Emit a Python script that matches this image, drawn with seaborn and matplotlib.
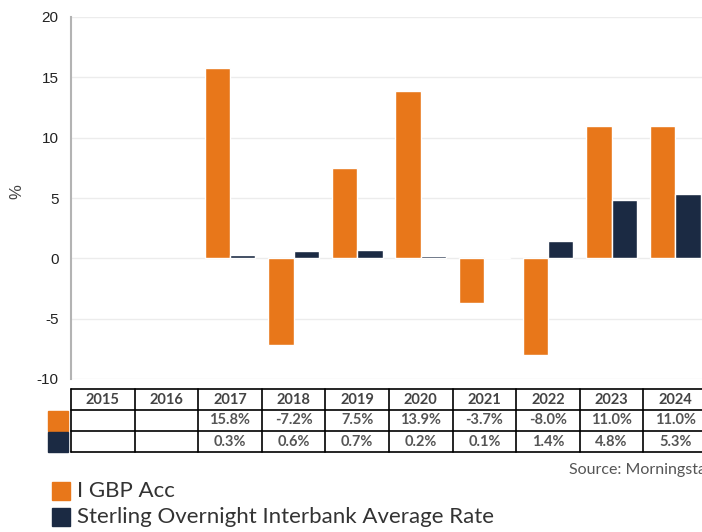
import numpy as np
import pandas as pd
import matplotlib
matplotlib.use("Agg")
import matplotlib.pyplot as plt
import seaborn as sns

years = ["2015", "2016", "2017", "2018", "2019", "2020", "2021", "2022", "2023", "2024"]
fund = [np.nan, np.nan, 15.8, -7.2, 7.5, 13.9, -3.7, -8.0, 11.0, 11.0]
sonia = [np.nan, np.nan, 0.3, 0.6, 0.7, 0.2, 0.1, 1.4, 4.8, 5.3]
series_names = ["I GBP Acc", "Sterling Overnight Interbank Average Rate"]
colors = ["#E8771A", "#1B2A43"]
yticks = [-10, -5, 0, 5, 10, 15, 20]

sns.set_theme(style="white")
plt.rcParams["font.family"] = ["Liberation Sans", "DejaVu Sans"]

df = pd.DataFrame({
    "year": years * 2,
    "value": fund + sonia,
    "series": [series_names[0]] * len(years) + [series_names[1]] * len(years),
})

W, H = 702, 532
fig = plt.figure(figsize=(W / 100, H / 100), dpi=100)

def fx(px):
    return px / W

def fy(py):
    return 1 - py / H

left_px, right_px = 71, 707
top_px, bot_px = 17, 379
ax = fig.add_axes([fx(left_px), fy(bot_px), fx(right_px - left_px), (bot_px - top_px) / H])

sns.barplot(data=df, x="year", y="value", hue="series", order=years,
            hue_order=series_names, palette=colors, width=0.8, gap=0.0,
            saturation=1, ax=ax, legend=False, errorbar=None)

ax.set_xlim(-0.5, len(years) - 0.5)
ax.set_ylim(-10, 20)
ax.set_yticks(yticks)
ax.set_yticklabels([str(t) for t in yticks], fontsize=11, color="#222222")
ax.set_xticks([])
ax.set_xlabel("")
ax.set_ylabel("")
ax.yaxis.grid(True, color="#ececec", linewidth=1)
ax.set_axisbelow(True)
for s in ["top", "right", "bottom"]:
    ax.spines[s].set_visible(False)
ax.spines["left"].set_color("#b3b3b3")
ax.spines["left"].set_linewidth(1.5)
ax.tick_params(axis="y", length=0, pad=9)

fig.text(fx(17), fy(192), "%", rotation=90, fontsize=12, color="#444444",
         ha="center", va="center")

# Table
tab_top, tab_bot = 389, 452
tax = fig.add_axes([fx(left_px), fy(tab_bot), fx(right_px - left_px), (tab_bot - tab_top) / H])
tax.set_xlim(-0.5, len(years) - 0.5)
tax.set_ylim(0, 3)
tax.axis("off")
for i in range(len(years) + 1):
    tax.plot([i - 0.5, i - 0.5], [0, 3], color="black", lw=1.2, clip_on=False)
for j in range(4):
    tax.plot([-0.5, len(years) - 0.5], [j, j], color="black", lw=1.2, clip_on=False)

tfont = ["Lato", "DejaVu Sans"]
for i, y in enumerate(years):
    tax.text(i, 2.5, y, ha="center", va="center", fontsize=10.5, fontweight="bold",
             color="#444444", family=tfont)
    if not np.isnan(fund[i]):
        tax.text(i, 1.5, f"{fund[i]:.1f}%", ha="center", va="center", fontsize=10.5,
                 fontweight="bold", color="#555555", family=tfont)
    if not np.isnan(sonia[i]):
        tax.text(i, 0.5, f"{sonia[i]:.1f}%", ha="center", va="center", fontsize=10.5,
                 fontweight="bold", color="#555555", family=tfont)

# colour squares beside table rows
for k, c in enumerate(colors):
    y0 = 410 + k * 21 + 1
    fig.patches.append(plt.Rectangle((fx(48), fy(y0 + 20)), fx(20), 20 / H,
                                     transform=fig.transFigure, color=c))

fig.text(fx(569), fy(470), "Source: Morningstar", fontsize=11.5, color="#555555",
         ha="left", va="center", family=tfont)

# legend
for k, (name, c) in enumerate(zip(series_names, colors)):
    yc = 491 + k * 26
    fig.patches.append(plt.Rectangle((fx(52), fy(yc + 9)), fx(18), 18 / H,
                                     transform=fig.transFigure, color=c))
    fig.text(fx(77), fy(yc), name, fontsize=16, color="#333333", ha="left",
             va="center", family=tfont)

fig.savefig("out.png", dpi=100)
